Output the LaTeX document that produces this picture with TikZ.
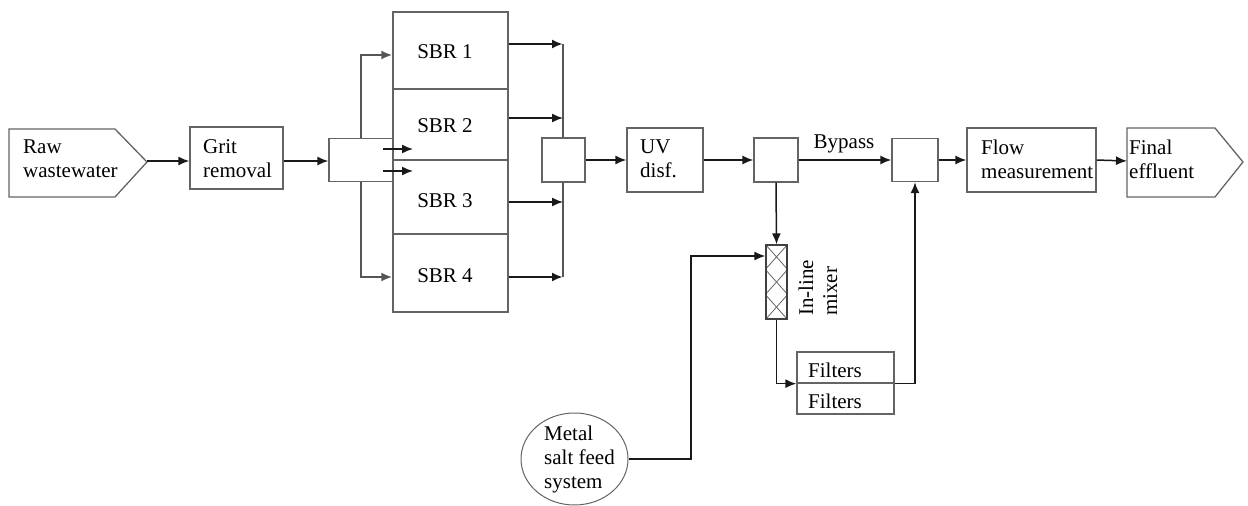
\documentclass[tikz,border=0pt]{standalone}
\usepackage{fontspec}
\setmainfont{Liberation Serif}
\usetikzlibrary{arrows.meta,calc,shapes.geometric}
\definecolor{boxc}{RGB}{100,100,100}
\definecolor{linec}{RGB}{25,25,25}
\definecolor{colc}{RGB}{85,85,85}
\begin{document}
\begin{tikzpicture}[x=1pt,y=-1pt,
  every node/.style={font=\fontsize{21pt}{24pt}\selectfont},
  blk/.style={draw=boxc, line width=1.3pt, fill=white, inner sep=0pt, rectangle},
  txt/.style={inner sep=0pt, align=left, anchor=west, text=black},
  con/.style={draw=linec, line width=1.5pt},
  arr/.style={con, -{Latex[length=11pt,width=9pt]}},
  tarr/.style={draw=linec, line width=2.6pt, -{Latex[length=11pt,width=9pt]}},
  garr/.style={draw=colc, line width=2.2pt, -{Latex[length=11pt,width=9pt]}},
  colline/.style={draw=colc, line width=2.8pt},
  xline/.style={draw=boxc, line width=0.8pt}
]
\useasboundingbox (0,0) rectangle (1248,506);

% Raw wastewater (pentagon)
\draw[boxc, line width=1.3pt, fill=white] (9,129) -- (115,129) -- (147,162) -- (115,197) -- (9,197) -- cycle;
\coordinate (rawtip) at (147,161);
\node[txt] (rawtxt) at (23,158.5) {Raw\\wastewater};

% Grit removal
\node[blk, minimum width=93pt, minimum height=62pt] (grit) at (236.5,158) {};
\node[txt] (grittxt) at (203,159) {Grit\\removal};

% distributor
\node[blk, minimum width=64pt, minimum height=43pt] (dist) at (361,160) {};

% SBRs
\node[blk, minimum width=115pt, minimum height=77pt] (sbr1) at (450.5,50.5) {};
\node[blk, minimum width=115pt, minimum height=71pt] (sbr2) at (450.5,124.5) {};
\node[blk, minimum width=115pt, minimum height=74pt] (sbr3) at (450.5,197) {};
\node[blk, minimum width=115pt, minimum height=78pt] (sbr4) at (450.5,273) {};
\node[inner sep=0pt] (sbr1t) at (445,52) {SBR 1};
\node[inner sep=0pt] (sbr2t) at (445,126) {SBR 2};
\node[inner sep=0pt] (sbr3t) at (445,201) {SBR 3};
\node[inner sep=0pt] (sbr4t) at (445,276) {SBR 4};

% distributor connections
\coordinate (d1) at (361,55);
\coordinate (d4) at (361,277);
\draw[garr] (dist.north -| d1) |- (sbr1.west |- d1);
\draw[garr] (dist.south -| d4) |- (sbr4.west |- d4);
\coordinate (i1s) at (383,149);
\coordinate (i1e) at (413,149);
\coordinate (i2s) at (383,171);
\coordinate (i2e) at (413,171);
\draw[arr] (i1s) -- (i1e);
\draw[arr] (i2s) -- (i2e);

% collector
\coordinate (o1) at (563,44);
\coordinate (o2) at (563,118);
\coordinate (o3) at (563,202);
\coordinate (o4) at (563,277);
\draw[colline] (o1) -- (o4);
\draw[tarr] (sbr1.east |- o1) -- (o1);
\draw[arr] (sbr2.east |- o2) -- (o2);
\draw[arr] (sbr3.east |- o3) -- (o3);
\draw[tarr] (sbr4.east |- o4) -- (o4);
\node[blk, minimum width=43pt, minimum height=44pt] (coll) at (563.5,160) {};

% UV
\node[blk, minimum width=76pt, minimum height=64pt] (uv) at (665,160) {};
\node[txt] (uvtxt) at (640,159) {UV\\disf.};

% splitter
\node[blk, minimum width=44pt, minimum height=44pt] (split) at (776,160) {};

% merge
\node[blk, minimum width=46pt, minimum height=43pt] (merge) at (915,160) {};
\node[inner sep=0pt] (bypass) at (844,143.5) {Bypass};

% Flow measurement
\node[blk, minimum width=129pt, minimum height=64pt] (flow) at (1031.5,160) {};
\node[txt] (flowtxt) at (981,159.5) {Flow\\measurement};

% Final effluent
\draw[boxc, line width=1.3pt, fill=white] (1127,128) -- (1215,128) -- (1243,162) -- (1215,197) -- (1127,197) -- cycle;
\coordinate (finl) at (1127,161);
\node[txt] (fintxt) at (1129,159.5) {Final\\effluent};

% mixer
\node[blk, draw=black!75, minimum width=21pt, minimum height=74pt] (mixer) at (776.5,282) {};
\foreach \a/\b in {0/0.3333,0.3333/0.6667,0.6667/1}{
  \draw[xline] ($(mixer.north west)!\a!(mixer.south west)$) -- ($(mixer.north east)!\b!(mixer.south east)$);
  \draw[xline] ($(mixer.north east)!\a!(mixer.south east)$) -- ($(mixer.north west)!\b!(mixer.south west)$);
}
\node[blk, draw=black!75, fill=none, minimum width=21pt, minimum height=74pt] (mixerb) at (776.5,282) {};
\node[inner sep=0pt, align=left, rotate=90, anchor=west] (mixtxt) at (818,316) {In-line\\mixer};

% filters
\node[blk, minimum width=97pt, minimum height=31pt] (filt1) at (845.5,367.5) {};
\node[blk, minimum width=97pt, minimum height=31pt] (filt2) at (845.5,398.5) {};
\node[txt] (f1txt) at (808,370) {Filters};
\node[txt] (f2txt) at (808,401) {Filters};

% metal salt feed
\node[ellipse, draw=boxc, line width=1pt, minimum width=107pt, minimum height=92pt, inner sep=0pt] (metal) at (574.5,459) {};
\node[txt] (metaltxt) at (544,459) {Metal\\salt feed\\system};

% connectors
\draw[arr] (rawtip) -- (grit.west |- rawtip);
\draw[arr] (grit.east |- rawtip) -- (dist.west |- rawtip);
\draw[arr] (coll.east) -- (uv.west);
\draw[arr] (uv.east) -- (split.west);
\draw[arr] (split.east) -- (merge.west);
\draw[arr] (merge.east) -- (flow.west);
\draw[arr] (flow.east) -- (finl);
\draw[arr] (split.south) -- (mixer.north);
\coordinate (m1) at (691,256);
\draw[arr] (metal.east) -| (m1) -- (m1 -| mixer.west);
\draw[arr] (mixer.south) |- (filt1.south west);
\draw[arr] (filt1.south east) -| (merge.south);
\end{tikzpicture}
\end{document}
